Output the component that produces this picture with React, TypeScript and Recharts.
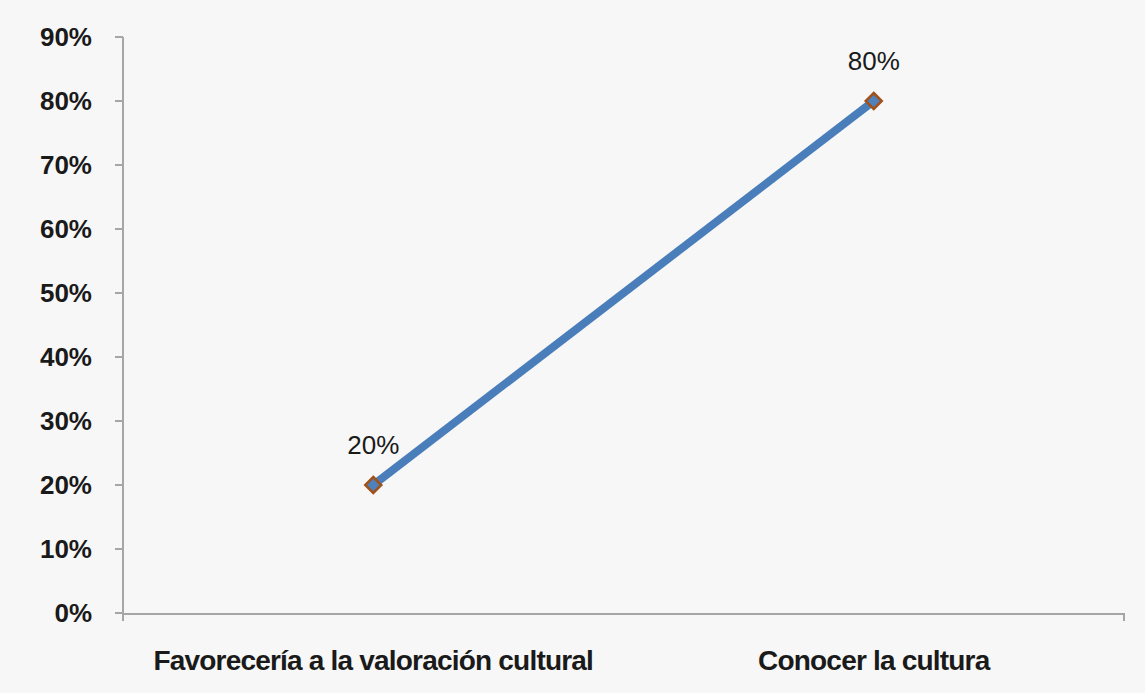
import { LineChart, Line, XAxis, YAxis, LabelList } from 'recharts';

const categories = ['Favorecería a la valoración cultural', 'Conocer la cultura'];
const values = [0.2, 0.8];
const yTicks = [0, 0.1, 0.2, 0.3, 0.4, 0.5, 0.6, 0.7, 0.8, 0.9];
const edgeTicks = [0, 1, 2];

const data = categories.map((name, i) => ({ name, value: values[i] }));

const pct = (v: number) => `${Math.round(v * 100)}%`;

const Diamond = (props: any) => {
    const { cx, cy } = props;
    if (cx == null || cy == null) return null;
    const r = 8;
    return (
        <polygon
            points={`${cx},${cy - r} ${cx + r},${cy} ${cx},${cy + r} ${cx - r},${cy}`}
            fill="#4f81bd"
            stroke="#a0521a"
            strokeWidth={2.5}
        />
    );
};

const App = () => {
    return (
        <div style={{ position: 'absolute', left: 0, top: 0, width: 1145, height: 693, background: '#f7f7f7' }}>
            <LineChart
                width={1145}
                height={693}
                data={data}
                margin={{ top: 37, right: 21, bottom: 0, left: 0 }}
            >
                {/* boundary tick marks between the categories */}
                <XAxis
                    xAxisId={0}
                    type="number"
                    domain={[0, 2]}
                    ticks={edgeTicks}
                    height={1}
                    axisLine={false}
                    tickFormatter={() => ''}
                    tickLine={{ stroke: '#a6a6a6', strokeWidth: 2 }}
                    tickSize={8}
                />
                <XAxis
                    xAxisId="cat"
                    dataKey="name"
                    scale="band"
                    height={79}
                    axisLine={{ stroke: '#a6a6a6', strokeWidth: 2 }}
                    tickLine={false}
                    tickSize={0}
                    tickMargin={36}
                    interval={0}
                    tick={{
                        fill: '#1a1a1a',
                        fontSize: 28,
                        fontWeight: 'bold',
                        letterSpacing: -0.8,
                        fontFamily: '"Liberation Sans", Arial, sans-serif',
                    }}
                />
                <YAxis
                    width={123}
                    domain={[0, 0.9]}
                    ticks={yTicks}
                    tickFormatter={pct}
                    axisLine={{ stroke: '#a6a6a6', strokeWidth: 2 }}
                    tickLine={{ stroke: '#a6a6a6', strokeWidth: 2 }}
                    tickSize={8}
                    tickMargin={23}
                    tick={{
                        fill: '#1a1a1a',
                        fontSize: 26,
                        fontWeight: 'bold',
                        fontFamily: '"Liberation Sans", Arial, sans-serif',
                    }}
                />
                <Line
                    xAxisId="cat"
                    dataKey="value"
                    stroke="#4a7ebb"
                    strokeWidth={8}
                    dot={<Diamond />}
                    activeDot={false}
                    isAnimationActive={false}
                >
                    <LabelList
                        dataKey="value"
                        position="top"
                        offset={31}
                        formatter={(v: any) => pct(Number(v))}
                        fill="#1a1a1a"
                        fontSize={26}
                        fontFamily='"Liberation Sans", Arial, sans-serif'
                    />
                </Line>
            </LineChart>
        </div>
    );
};

export default App;
